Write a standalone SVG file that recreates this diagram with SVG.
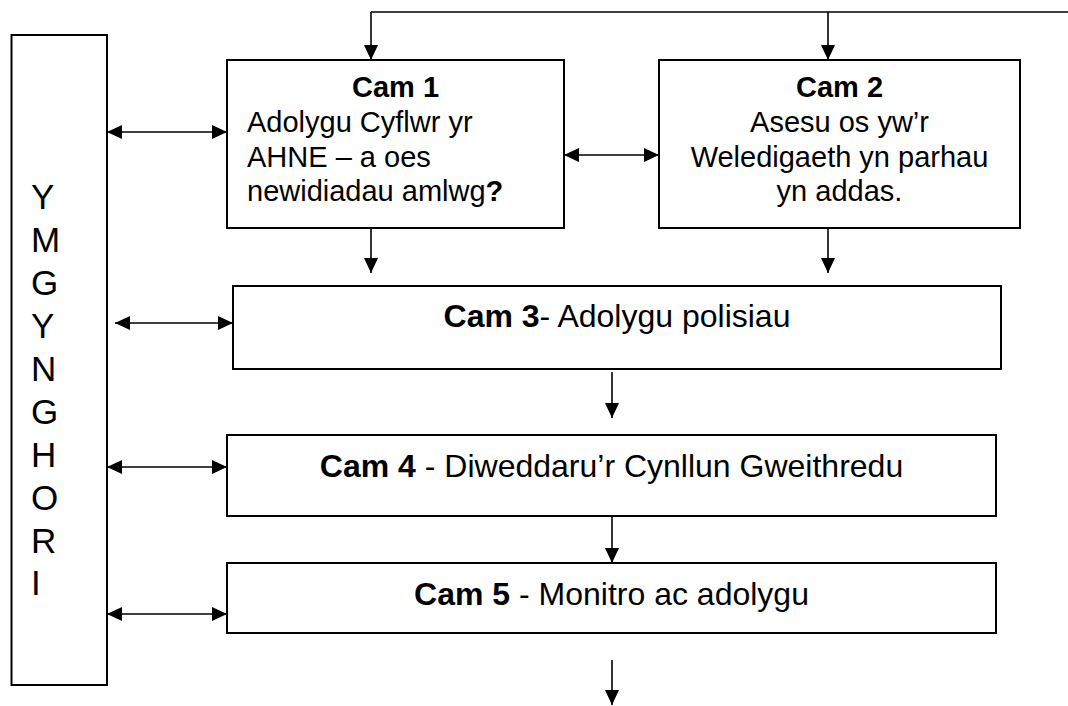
<svg xmlns="http://www.w3.org/2000/svg" width="1068" height="706" viewBox="0 0 1068 706">
<style>
.box{fill:#fff;stroke:#000;stroke-width:2}
.t{font-family:"Liberation Sans",Arial,sans-serif;fill:#000}
.s{font-size:29px}
.m{font-size:32px}
.l{font-size:35px}
.b{font-weight:bold}
.c{fill:none;stroke:#000;stroke-width:1.6}
.a{marker-end:url(#ah)}
.d{marker-start:url(#ah);marker-end:url(#ah)}
</style>
<defs>
<marker id="ah" markerUnits="userSpaceOnUse" markerWidth="15" markerHeight="14" refX="15" refY="7" orient="auto-start-reverse" viewBox="0 0 15 14">
<path d="M0,0 L15,7 L0,14 Z" fill="#000"/>
</marker>
</defs>
<rect width="1068" height="706" fill="#fff"/>
<g id="connectors">
<path class="c" d="M1068,12 H371"/>
<path class="c a" d="M371,12 V60"/>
<path class="c a" d="M828,12 V60"/>
<path class="c d" d="M107,132 H227"/>
<path class="c d" d="M564,155 H659"/>
<path class="c a" d="M371,228 V273"/>
<path class="c a" d="M828,228 V273"/>
<path class="c d" d="M115,323 H233"/>
<path class="c a" d="M612,372 V418"/>
<path class="c d" d="M107,467 H227"/>
<path class="c a" d="M612,516 V563"/>
<path class="c d" d="M107,614 H227"/>
<path class="c a" d="M612,660 V705"/>
</g>
<g id="ymgynghori">
<rect class="box" x="11.5" y="35" width="95.5" height="650"/>
<text class="t l">
<tspan x="31" y="209">Y</tspan>
<tspan x="31" y="252">M</tspan>
<tspan x="31" y="295">G</tspan>
<tspan x="31" y="338">Y</tspan>
<tspan x="31" y="381">N</tspan>
<tspan x="31" y="424">G</tspan>
<tspan x="31" y="467">H</tspan>
<tspan x="31" y="510">O</tspan>
<tspan x="31" y="553">R</tspan>
<tspan x="31" y="595">I</tspan>
</text>
</g>
<g id="cam1">
<rect class="box" x="227" y="60" width="337" height="168"/>
<text class="t s b" x="395.5" y="97" text-anchor="middle">Cam 1</text>
<text class="t s" x="247" y="132">Adolygu Cyflwr yr</text>
<text class="t s" x="247" y="166.5">AHNE – a oes</text>
<text class="t s" x="247" y="201">newidiadau amlwg<tspan class="b">?</tspan></text>
</g>
<g id="cam2">
<rect class="box" x="659" y="60" width="361" height="168"/>
<text class="t s b" x="839.5" y="97" text-anchor="middle">Cam 2</text>
<text class="t s" x="839.5" y="132" text-anchor="middle">Asesu os yw’r</text>
<text class="t s" x="839.5" y="166.5" text-anchor="middle">Weledigaeth yn parhau</text>
<text class="t s" x="839.5" y="201" text-anchor="middle">yn addas.</text>
</g>
<g id="cam3">
<rect class="box" x="233" y="286" width="768" height="83"/>
<text class="t m" x="617" y="327" text-anchor="middle"><tspan class="b">Cam 3</tspan>- Adolygu polisiau</text>
</g>
<g id="cam4">
<rect class="box" x="227" y="435" width="769" height="81"/>
<text class="t m" x="611.5" y="477" text-anchor="middle"><tspan class="b">Cam 4</tspan> - Diweddaru’r Cynllun Gweithredu</text>
</g>
<g id="cam5">
<rect class="box" x="227" y="563" width="769" height="70"/>
<text class="t m" x="611.5" y="605" text-anchor="middle"><tspan class="b">Cam 5</tspan> - Monitro ac adolygu</text>
</g>
</svg>
